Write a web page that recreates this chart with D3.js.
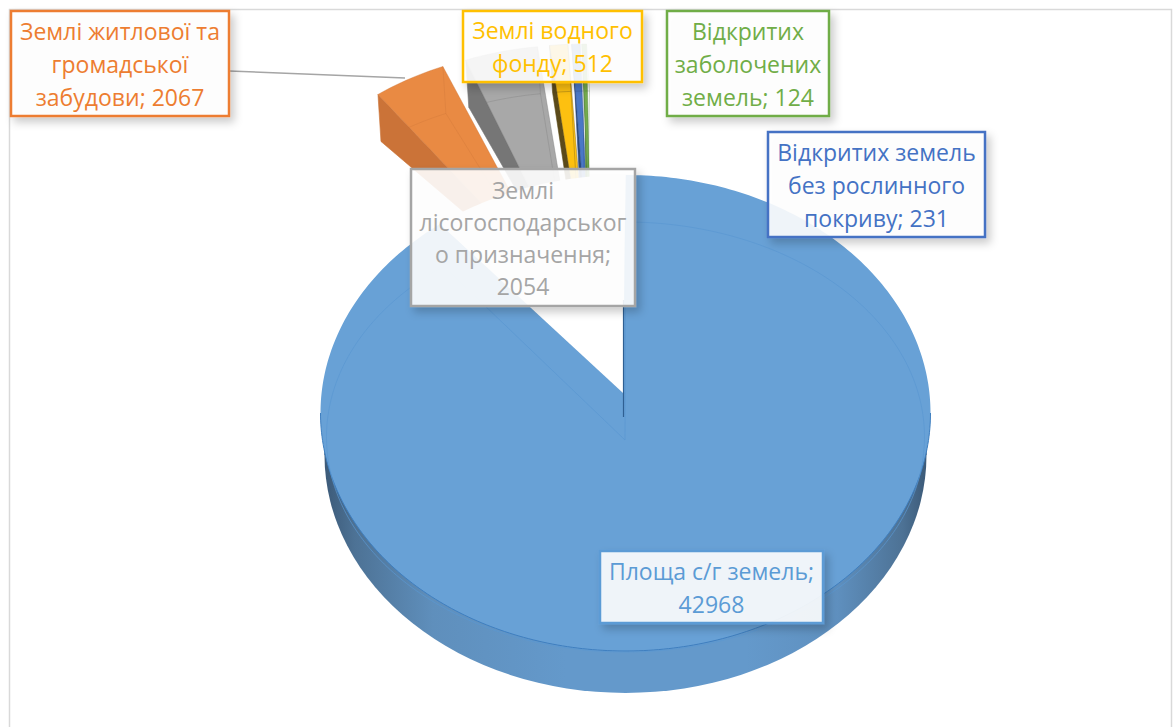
<!DOCTYPE html>
<html>
<head>
<meta charset="utf-8">
<script src="https://cdnjs.cloudflare.com/ajax/libs/d3/7.8.5/d3.min.js"></script>
<style>
    html, body { margin: 0; padding: 0; background: #fff; overflow: hidden; }
    text { font-family: "Open Sans", "Noto Sans", sans-serif; font-size: 23px; text-anchor: middle; dominant-baseline: central; }
</style>
</head>
<body>
<script>
// chart values
var categories = ["Площа с/г земель", "Землі житлової та громадської забудови", "Землі лісогосподарського призначення", "Землі водного фонду", "Відкритих земель без рослинного покриву", "Відкритих заболочених земель"];
var values = [42968, 2067, 2054, 512, 231, 124];
var colors = ["#5b9bd5", "#ed7d31", "#a5a5a5", "#ffc000", "#4472c4", "#70ad47"];
var faceColors = ["#68a1d6", "#e98a43", "#a8a8a8", "#fdc010", "#4a78c6", "#74ab4e"];
var wallColors = ["#5a8fc0", "#cb7338", "#767676", "#5b4a1a", "#2a4a80", "#4d7a33"];
var labelLines = [
    ["Площа с/г земель;"],
    ["Землі житлової та", "громадської", "забудови;"],
    ["Землі", "лісогосподарськог", "о призначення;"],
    ["Землі водного", "фонду;"],
    ["Відкритих земель", "без рослинного", "покриву;"],
    ["Відкритих", "заболочених", "земель;"]
];

function main() {
    var width = 1176, height = 727;

    var svg = d3.select("body").append("svg")
        .attr("width", width)
        .attr("height", height);

    prepDefs(svg);

    // chart frame
    svg.append("path")
        .attr("d", "M9.5,727V9.5H1171.5V727")
        .attr("fill", "none")
        .attr("stroke", "#d9d9d9")
        .attr("stroke-width", 1.5);

    // angles come from the pie layout, first slice starts at 12 o'clock
    var slices = d3.pie().sort(null)(values);

    // exploded slices first, the big one and the labels go on top
    slices.slice(1).forEach(function (d) { drawExploded(svg, d); });
    drawBigSlice(svg, slices[0]);

    // leader line of the orange label
    svg.append("line")
        .attr("x1", 229).attr("y1", 71)
        .attr("x2", 405).attr("y2", 78)
        .attr("stroke", "#a5a5a5")
        .attr("stroke-width", 1.5);

    drawLabels(svg);
}

function prepDefs(svg) {
    var defs = svg.append("defs");

    var wall = defs.append("linearGradient").attr("id", "wall");
    [[0, "#3c5a78"], [0.05, "#4d7295"], [0.18, "#5f8fbc"], [0.4, "#6499cb"], [0.7, "#6499cb"], [0.85, "#5f90bf"], [0.96, "#4d7295"], [1, "#3c5a78"]]
        .forEach(function (s) {
            wall.append("stop").attr("offset", s[0]).attr("stop-color", s[1]);
        });

    var shadow = defs.append("filter").attr("id", "shadow")
        .attr("x", "-10%").attr("y", "-15%").attr("width", "125%").attr("height", "135%");
    shadow.append("feDropShadow")
        .attr("dx", 4).attr("dy", 5)
        .attr("stdDeviation", 4)
        .attr("flood-color", "#000")
        .attr("flood-opacity", 0.22);
}

function rimPoints(a0, a1, cx, cy, rx, ry) {
    var steps = Math.max(4, Math.ceil((a1 - a0) * 60));
    return d3.range(steps + 1).map(function (i) {
        var a = a0 + (a1 - a0) * i / steps;
        return [cx + rx * Math.sin(a), cy - ry * Math.cos(a)];
    });
}

function drawBigSlice(svg, d) {
    var line = d3.line();
    var cx = 625.5, cy = 413, rx = 305, ry = 238;
    var apex = [623, 393];

    // side wall: lower ellipse under the top face
    svg.append("ellipse")
        .attr("cx", cx).attr("cy", 455)
        .attr("rx", 301).attr("ry", 238)
        .attr("fill", "url(#wall)");
    // fill the wall up to the widest point of the top face
    svg.append("rect")
        .attr("x", cx - 301).attr("y", 413)
        .attr("width", 602).attr("height", 42)
        .attr("fill", "url(#wall)");

    // top face
    var rim = rimPoints(d.startAngle, d.endAngle, cx, cy, rx, ry);
    svg.append("path")
        .attr("d", line([apex].concat(rim)) + "Z")
        .attr("fill", faceColors[0]);

    // white notch can hide the wall behind it
    svg.append("path")
        .attr("d", line([apex, rim[rim.length - 1]].concat(rimPoints(d.endAngle, d.startAngle + 2 * Math.PI, cx, cy, rx, ry))) + "Z")
        .attr("fill", "#fff");

    // only the front of the rim has a dark edge
    svg.append("path")
        .attr("d", line(rimPoints(Math.PI / 2, Math.PI * 1.5, cx, cy, rx, ry)))
        .attr("fill", "none")
        .attr("stroke", "#3f7fc0")
        .attr("stroke-width", 1);

    // faint back face seen through the top
    var gApex = [625, 440];
    var ghost = rimPoints(d.startAngle, d.endAngle, cx, 437, 299, 215);
    svg.append("path")
        .attr("d", line([gApex].concat(ghost)) + "Z")
        .attr("fill", "none")
        .attr("stroke", "#5a97d2")
        .attr("stroke-opacity", 0.7)
        .attr("stroke-width", 1);

    // dark inner edge at 12 o'clock
    svg.append("line")
        .attr("x1", 623.5).attr("y1", 300)
        .attr("x2", 623.5).attr("y2", 417)
        .attr("stroke", "#2f5f92")
        .attr("stroke-width", 1.2);
}

function drawExploded(svg, d) {
    var line = d3.line();
    var i = d.index;
    var mid = (d.startAngle + d.endAngle) / 2;
    var rx = 305, ry = 238;

    // the slice tip moves out along its middle angle
    var tx = 587 + 61 * Math.sin(mid),
        ty = 322 - 40 * Math.cos(mid);

    // perspective makes the far rim a bit narrower than the angle
    var inset = (d.endAngle - d.startAngle) * 0.1;
    var rim = rimPoints(d.startAngle + inset, d.endAngle, tx, ty, rx, ry);
    var rimLow = rim.map(function (p) { return [p[0] + 3, p[1] + 47]; });
    var tipLow = [tx, ty + 4];
    var tipTop = [tx + 5, ty];
    var first = rim[0], last = rim[rim.length - 1];

    // left wall
    svg.append("path")
        .attr("d", line([first, rimLow[0], tipLow, tipTop]) + "Z")
        .attr("fill", wallColors[i])
        .attr("stroke", wallColors[i])
        .attr("stroke-width", 0.6);

    // top face
    svg.append("path")
        .attr("d", line([tipTop].concat(rim)) + "Z")
        .attr("fill", faceColors[i])
        .attr("stroke", d3.color(wallColors[i]).copy({ opacity: 0.6 }))
        .attr("stroke-width", 0.6);

    // back edges showing through
    var lastLow = rimLow[rimLow.length - 1];
    svg.append("path")
        .attr("d", line(rimLow) + "M" + line([last, lastLow, tipLow]).slice(1))
        .attr("fill", "none")
        .attr("stroke", wallColors[i])
        .attr("stroke-opacity", 0.3)
        .attr("stroke-width", 1);
}

function drawLabels(svg) {
    // boxes: x0, y0, x1, y1
    var boxes = [
        [600, 551, 823, 623],
        [11, 11, 229, 116],
        [411, 169, 635, 306],
        [463, 11, 642, 82],
        [768, 132, 985, 237],
        [667, 11, 829, 116]
    ];

    // drawn in this order so the overlaps stay as they are
    [1, 3, 5, 4, 2, 0].forEach(function (i) {
        var b = boxes[i];
        var lines = labelLines[i].slice();
        var valueText = values[i] + "";
        // the value shares the last line unless the box gives it its own
        if (i === 0 || i === 2) lines.push(valueText);
        else lines[lines.length - 1] += " " + valueText;

        var g = svg.append("g");
        g.append("rect")
            .attr("x", b[0]).attr("y", b[1])
            .attr("width", b[2] - b[0]).attr("height", b[3] - b[1])
            .attr("fill", "#fff")
            .attr("fill-opacity", 0.89)
            .attr("stroke", colors[i])
            .attr("stroke-width", 2.5)
            .attr("filter", "url(#shadow)");

        var step = i === 2 ? 32 : 33;
        var y0 = (b[1] + b[3]) / 2 - step * (lines.length - 1) / 2;
        g.selectAll("text").data(lines).enter().append("text")
            .attr("x", (b[0] + b[2]) / 2)
            .attr("y", function (t, k) { return y0 + k * step; })
            .attr("fill", colors[i])
            .text(function (t) { return t; });
    });
}

window.onload = main;
</script>
</body>
</html>
